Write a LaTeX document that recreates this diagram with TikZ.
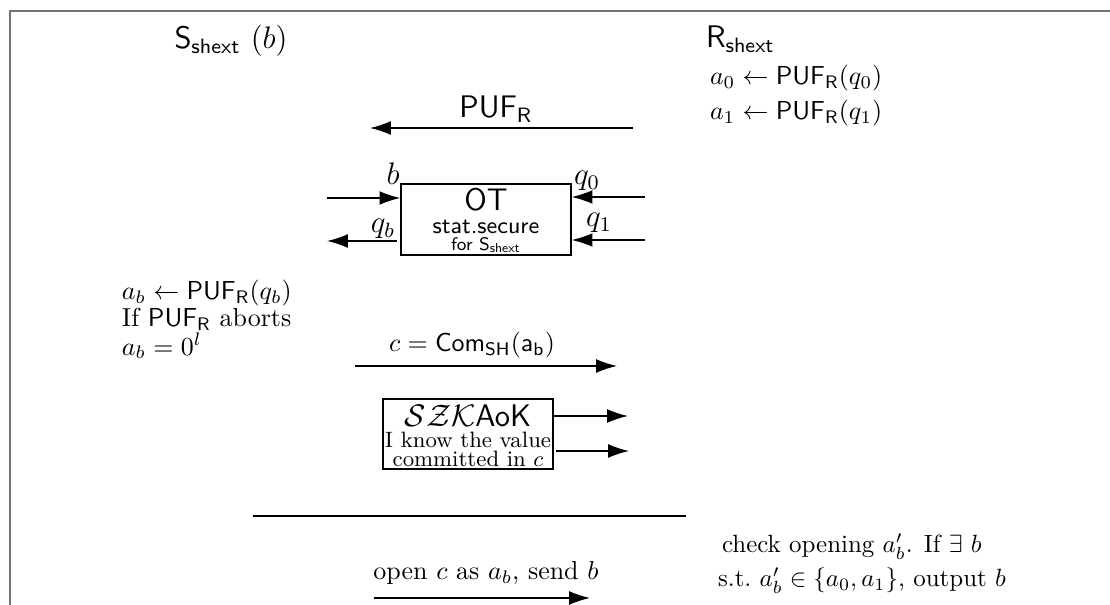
\documentclass[tikz,border=0pt]{standalone}
\usepackage{amsmath,amssymb}
\usetikzlibrary{arrows.meta}
\begin{document}
\begin{tikzpicture}[x=0.385pt,y=-0.385pt,
  arr/.style={-{Latex[length=8pt,width=5.3pt]}, line width=0.5pt},
  plain/.style={line width=0.5pt},
  txt/.style={inner sep=0pt, outer sep=0pt},
  boxnode/.style={draw, line width=0.5pt, inner sep=0pt}]
\useasboundingbox (0,0) rectangle (1110,605);
\draw[black!55, line width=0.8pt] (10,700) -- (10,11) -- (1200,11);
% participants
\node[txt] (S) at (231,41) {\large $\mathsf{S}_{\mathsf{shext}}$\ $(b)$};
\node[txt, anchor=west] (R) at (706,39) {\large $\mathsf{R}_{\mathsf{shext}}$};
\node[txt, anchor=west] (r1) at (710,78) {$a_0 \leftarrow \mathsf{PUF}_{\mathsf{R}}(q_0)$};
\node[txt, anchor=west] (r2) at (710,113) {$a_1 \leftarrow \mathsf{PUF}_{\mathsf{R}}(q_1)$};
% PUF transfer
\node[txt] (puflbl) at (496,109) {\large $\mathsf{PUF}_{\mathsf{R}}$};
\coordinate (pufR) at (633,128);
\coordinate (pufL) at (370,128);
\draw[arr] (pufR) -- (pufL);
% OT box
\node[boxnode, minimum width=65.5pt, minimum height=27.3pt] (OT) at (486,219.5) {};
\node[txt] (OTt) at (486,200) {\large\sffamily OT};
\node[txt] (OTs) at (486,227) {\small\sffamily stat.secure};
\node[txt] (OTf) at (486,245) {\scriptsize\sffamily for $\mathsf{S}_{\mathsf{shext}}$};
\coordinate (bin) at (327,198);
\draw[arr] (bin) -- (bin -| OT.west);
\node[txt] (blbl) at (393,174) {\large $b$};
\coordinate (qbout) at (327,241);
\coordinate (qbstart) at (397,241);
\draw[arr] (qbstart) -- (qbout);
\node[txt] (qblbl) at (383,229) {\large $q_b$};
\coordinate (q0in) at (645,197);
\draw[arr] (q0in) -- (q0in -| OT.east);
\node[txt] (q0lbl) at (587,181) {\large $q_0$};
\coordinate (q1in) at (645,240);
\draw[arr] (q1in) -- (q1in -| OT.east);
\node[txt] (q1lbl) at (599,223) {\large $q_1$};
% left computation
\node[txt, anchor=west] (l1) at (122,293) {$a_b \leftarrow \mathsf{PUF}_{\mathsf{R}}(q_b)$};
\node[txt, anchor=west] (l2) at (122,319) {If $\mathsf{PUF}_{\mathsf{R}}$ aborts};
\node[txt, anchor=west] (l3) at (122,346) {$a_b = 0^l$};
% commitment
\node[txt] (comlbl) at (472,345) {$c = \mathsf{Com}_{\mathsf{SH}}(\mathsf{a_b})$};
\coordinate (comL) at (355,366);
\coordinate (comR) at (617,366);
\draw[arr] (comL) -- (comR);
% SZK box
\node[boxnode, minimum width=65.5pt, minimum height=27pt] (SZK) at (468,434) {};
\node[txt] (SZKt) at (468,416) {\large $\mathcal{SZK}$\textsf{AoK}};
\node[txt, scale=0.95] (SZKa) at (468,440) {\small I know the value};
\node[txt, scale=0.95] (SZKb) at (468,459) {\small committed in $c$};
\coordinate (z1s) at (553,416);
\coordinate (z1e) at (628,416);
\draw[arr] (z1s) -- (z1e);
\coordinate (z2s) at (556,451);
\coordinate (z2e) at (629,451);
\draw[arr] (z2s) -- (z2e);
% separator
\coordinate (sepL) at (253,516);
\coordinate (sepR) at (686,516);
\draw[plain] (sepL) -- (sepR);
% opening
\node[txt] (openlbl) at (486,573) {open $c$ as $a_b$, send $b$};
\coordinate (opL) at (374,598);
\coordinate (opR) at (590,598);
\draw[arr] (opL) -- (opR);
\node[txt, anchor=west, scale=0.96] (chk1) at (722,547) {check opening $a_b'$. If $\exists$ $b$};
\node[txt, anchor=west, scale=0.96] (chk2) at (718,581) {s.t.\ $a_b' \in \{a_0,a_1\}$, output $b$};
\end{tikzpicture}
\end{document}
